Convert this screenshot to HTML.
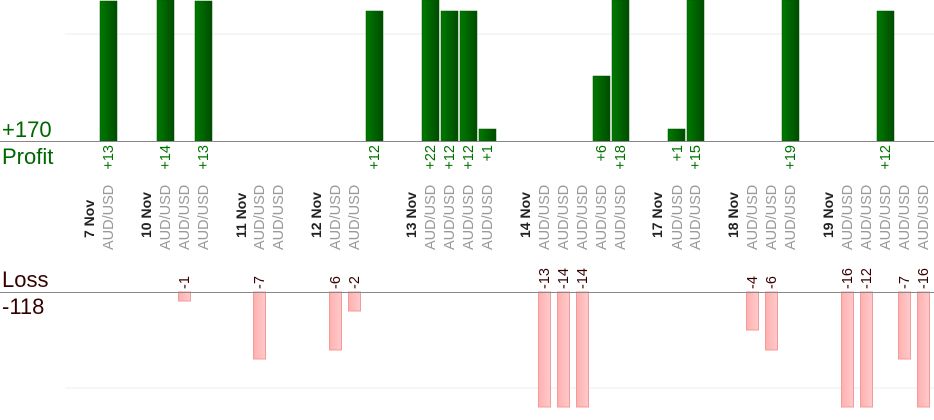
<!DOCTYPE html>
<html><head><style>body{margin:0;background:#fff}svg{display:block}</style></head><body>
<svg width="934" height="420" xmlns="http://www.w3.org/2000/svg" font-family="Liberation Sans, sans-serif">
<defs>
<linearGradient id="g" x1="0" x2="1"><stop offset="0" stop-color="#007a00"/><stop offset="1" stop-color="#004c00"/></linearGradient>
<linearGradient id="r" x1="0" x2="1"><stop offset="0" stop-color="#ffb0b0"/><stop offset="1" stop-color="#ffcaca"/></linearGradient>
</defs>
<line x1="65" y1="34" x2="934" y2="34" stroke="#eee"/>
<line x1="65" y1="388" x2="934" y2="388" stroke="#eee"/>
<g fill="url(#g)" stroke="#005500" stroke-width="0.5">
<rect x="100" y="1" width="17" height="140"/>
<rect x="157" y="0" width="17" height="141"/>
<rect x="195" y="1" width="17" height="140"/>
<rect x="366" y="11" width="17" height="130"/>
<rect x="422" y="0" width="17" height="141"/>
<rect x="441" y="11" width="17" height="130"/>
<rect x="460" y="11" width="17" height="130"/>
<rect x="479" y="129" width="17" height="12"/>
<rect x="593" y="76" width="17" height="65"/>
<rect x="612" y="0" width="17" height="141"/>
<rect x="668" y="129" width="17" height="12"/>
<rect x="687" y="0" width="17" height="141"/>
<rect x="782" y="0" width="17" height="141"/>
<rect x="877" y="11" width="17" height="130"/>
</g>
<g fill="url(#r)" stroke="#f59a9a" stroke-width="1">
<rect x="178.5" y="292" width="12" height="9"/>
<rect x="253.5" y="292" width="12" height="67"/>
<rect x="329.5" y="292" width="12" height="58"/>
<rect x="348.5" y="292" width="12" height="19"/>
<rect x="538.5" y="292" width="12" height="115"/>
<rect x="557.5" y="292" width="12" height="115"/>
<rect x="576.5" y="292" width="12" height="115"/>
<rect x="746.5" y="292" width="12" height="38"/>
<rect x="765.5" y="292" width="12" height="58"/>
<rect x="841.5" y="292" width="12" height="115"/>
<rect x="860.5" y="292" width="12" height="115"/>
<rect x="898.5" y="292" width="12" height="67"/>
<rect x="917.5" y="292" width="12" height="115"/>
</g>
<line x1="0" y1="141.5" x2="934" y2="141.5" stroke="#888"/>
<line x1="0" y1="292.5" x2="934" y2="292.5" stroke="#888"/>
<text x="2" y="137" font-size="22" fill="#006600">+170</text>
<text x="2" y="164" font-size="22" fill="#006600">Profit</text>
<text x="2" y="287" font-size="22" fill="#330000">Loss</text>
<text x="2" y="314" font-size="22" fill="#330000">-118</text>
<g font-size="14.5" fill="#007000" text-anchor="end">
<text transform="translate(113,145) rotate(-90)">+13</text>
<text transform="translate(170,145) rotate(-90)">+14</text>
<text transform="translate(208,145) rotate(-90)">+13</text>
<text transform="translate(379,145) rotate(-90)">+12</text>
<text transform="translate(435,145) rotate(-90)">+22</text>
<text transform="translate(454,145) rotate(-90)">+12</text>
<text transform="translate(473,145) rotate(-90)">+12</text>
<text transform="translate(492,145) rotate(-90)">+1</text>
<text transform="translate(606,145) rotate(-90)">+6</text>
<text transform="translate(625,145) rotate(-90)">+18</text>
<text transform="translate(682,145) rotate(-90)">+1</text>
<text transform="translate(700,145) rotate(-90)">+15</text>
<text transform="translate(795,145) rotate(-90)">+19</text>
<text transform="translate(890,145) rotate(-90)">+12</text>
</g>
<g font-size="14.5" fill="#330000">
<text transform="translate(189,289) rotate(-90)">-1</text>
<text transform="translate(264,289) rotate(-90)">-7</text>
<text transform="translate(340,289) rotate(-90)">-6</text>
<text transform="translate(359,289) rotate(-90)">-2</text>
<text transform="translate(549,289) rotate(-90)">-13</text>
<text transform="translate(568,289) rotate(-90)">-14</text>
<text transform="translate(587,289) rotate(-90)">-14</text>
<text transform="translate(757,289) rotate(-90)">-4</text>
<text transform="translate(776,289) rotate(-90)">-6</text>
<text transform="translate(852,289) rotate(-90)">-16</text>
<text transform="translate(871,289) rotate(-90)">-12</text>
<text transform="translate(909,289) rotate(-90)">-7</text>
<text transform="translate(928,289) rotate(-90)">-16</text>
</g>
<g font-size="14" font-weight="bold" fill="#222">
<text transform="translate(94,238) rotate(-90)">7 Nov</text>
<text transform="translate(151,238) rotate(-90)">10 Nov</text>
<text transform="translate(246,238) rotate(-90)">11 Nov</text>
<text transform="translate(321,238) rotate(-90)">12 Nov</text>
<text transform="translate(416,238) rotate(-90)">13 Nov</text>
<text transform="translate(530,238) rotate(-90)">14 Nov</text>
<text transform="translate(662,238) rotate(-90)">17 Nov</text>
<text transform="translate(738,238) rotate(-90)">18 Nov</text>
<text transform="translate(833,238) rotate(-90)">19 Nov</text>
</g>
<g font-size="14.5" fill="#999">
<text transform="translate(113,250) rotate(-90)">AUD/USD</text>
<text transform="translate(170,250) rotate(-90)">AUD/USD</text>
<text transform="translate(189,250) rotate(-90)">AUD/USD</text>
<text transform="translate(208,250) rotate(-90)">AUD/USD</text>
<text transform="translate(264,250) rotate(-90)">AUD/USD</text>
<text transform="translate(283,250) rotate(-90)">AUD/USD</text>
<text transform="translate(340,250) rotate(-90)">AUD/USD</text>
<text transform="translate(359,250) rotate(-90)">AUD/USD</text>
<text transform="translate(435,250) rotate(-90)">AUD/USD</text>
<text transform="translate(454,250) rotate(-90)">AUD/USD</text>
<text transform="translate(473,250) rotate(-90)">AUD/USD</text>
<text transform="translate(492,250) rotate(-90)">AUD/USD</text>
<text transform="translate(549,250) rotate(-90)">AUD/USD</text>
<text transform="translate(568,250) rotate(-90)">AUD/USD</text>
<text transform="translate(587,250) rotate(-90)">AUD/USD</text>
<text transform="translate(606,250) rotate(-90)">AUD/USD</text>
<text transform="translate(625,250) rotate(-90)">AUD/USD</text>
<text transform="translate(682,250) rotate(-90)">AUD/USD</text>
<text transform="translate(700,250) rotate(-90)">AUD/USD</text>
<text transform="translate(757,250) rotate(-90)">AUD/USD</text>
<text transform="translate(776,250) rotate(-90)">AUD/USD</text>
<text transform="translate(795,250) rotate(-90)">AUD/USD</text>
<text transform="translate(852,250) rotate(-90)">AUD/USD</text>
<text transform="translate(871,250) rotate(-90)">AUD/USD</text>
<text transform="translate(890,250) rotate(-90)">AUD/USD</text>
<text transform="translate(909,250) rotate(-90)">AUD/USD</text>
<text transform="translate(928,250) rotate(-90)">AUD/USD</text>
</g>
</svg>
</body></html>
